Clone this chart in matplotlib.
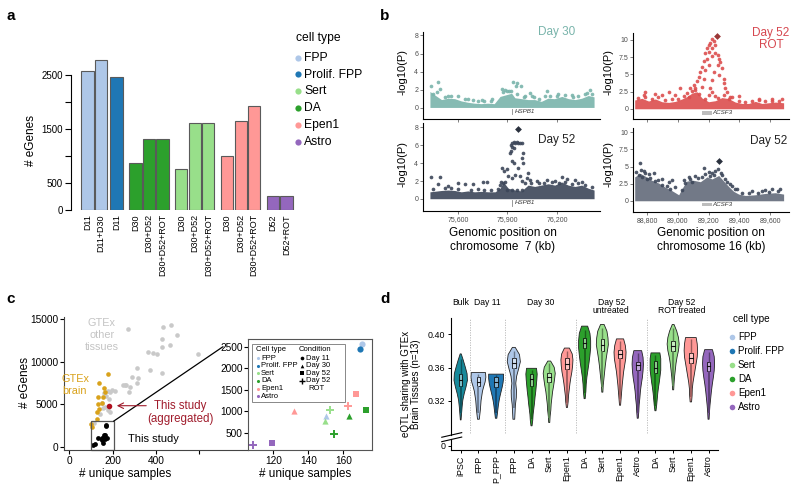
import numpy as np
import matplotlib.pyplot as plt
from matplotlib.patches import Rectangle, ConnectionPatch
from matplotlib.colors import to_rgb

plt.rcParams['font.family'] = ['Liberation Sans', 'DejaVu Sans']
plt.rcParams['axes.linewidth'] = 0.8

W, H = 800, 494

CELL_COLORS = {'FPP': '#aec7e8', 'Prolif. FPP': '#1f77b4', 'Sert': '#98df8a',
               'DA': '#2ca02c', 'Epen1': '#ff9896', 'Astro': '#9467bd', 'iPSC': '#17899b'}
LEGEND_ORDER = ['FPP', 'Prolif. FPP', 'Sert', 'DA', 'Epen1', 'Astro']

# ---------------- panel a: eGenes per cell type / condition
a_types = ['FPP', 'FPP', 'Prolif. FPP', 'DA', 'DA', 'DA', 'Sert', 'Sert', 'Sert',
           'Epen1', 'Epen1', 'Epen1', 'Astro', 'Astro']
a_labels = ['D11', 'D11+D30', 'D11', 'D30', 'D30+D52', 'D30+D52+ROT', 'D30', 'D30+D52',
            'D30+D52+ROT', 'D30', 'D30+D52', 'D30+D52+ROT', 'D52', 'D52+ROT']
a_egenes = [2570, 2780, 2460, 880, 1320, 1320, 770, 1610, 1610, 1010, 1650, 1925, 257, 257]

# ---------------- panel b: locus plots (dense band upper edge + scattered points)
hspb1_d30_band_x = [75430, 75460, 75500, 75540, 75580, 75620, 75660, 75700, 75740, 75780, 75820,
                    75855, 75885, 75925, 75945, 75985, 76025, 76065, 76105, 76145, 76185, 76230,
                    76270, 76310, 76350, 76390, 76425]
hspb1_d30_band_y = [1.8, 1.4, 0.9, 1.05, 1.0, 0.75, 0.6, 0.5, 0.45, 0.5, 0.45, 1.25, 1.4, 1.6,
                    1.1, 1.0, 0.9, 0.9, 0.7, 1.05, 1.0, 1.25, 1.0, 0.9, 1.05, 1.35, 1.2]
hspb1_d30_pts_x = [75436, 75480, 75491, 75541, 75602, 75663, 75743, 75804, 75864, 75888, 75911,
                   75935, 75955, 75949, 75981, 76006, 76036, 76046, 76137, 76127, 76208, 76289,
                   76400, 76369,
                   75450, 75470, 75520, 75560, 75640, 75690, 75720, 75760, 75800, 75870, 75900,
                   75920, 75960, 76000, 76060, 76090, 76160, 76200, 76250, 76300, 76330, 76380,
                   76415]
hspb1_d30_pts_y = [2.35, 2.8, 2.1, 1.3, 1.25, 1.0, 0.9, 0.95, 2.1, 2.0, 1.8, 2.8, 2.75, 2.4,
                   2.35, 1.25, 1.6, 1.3, 1.85, 1.3, 1.5, 1.4, 1.95, 1.5,
                   1.5, 1.7, 1.2, 1.3, 0.95, 0.8, 0.75, 0.7, 0.75, 1.7, 1.8, 1.9, 1.5, 1.2,
                   1.15, 1.0, 1.3, 1.25, 1.45, 1.2, 1.3, 1.6, 1.5]

hspb1_d52_band_x = [75430, 75500, 75540, 75580, 75620, 75660, 75700, 75740, 75785, 75825, 75855,
                    75875, 75905, 75945, 75985, 76025, 76065, 76105, 76147, 76187, 76228, 76268,
                    76310, 76350, 76390, 76425]
hspb1_d52_band_y = [0.8, 0.95, 1.0, 0.95, 0.8, 0.9, 0.8, 0.85, 0.8, 0.8, 1.2, 1.9, 1.2, 1.0,
                    0.9, 1.55, 1.4, 1.55, 1.7, 1.55, 1.9, 1.55, 1.4, 1.55, 1.2, 1.0]
hspb1_d52_pts_x = [75921, 75929, 75937, 75945, 75955, 75966, 75976, 75986, 75929, 75941, 75921,
                   75915, 75996, 75990, 75925, 75939, 75996, 75966, 75868, 75895, 75881, 75905,
                   75945, 75976, 75925, 76026, 76016, 76036, 75986, 76006, 75860, 75874, 75854,
                   75884, 75436, 75491, 75480, 75541, 75602, 75642, 75693, 75753, 75774, 76228,
                   76258, 76309, 76349, 76187, 76137, 76077,
                   75450, 75520, 75560, 75600, 75680, 75720, 75760, 75800, 75840, 76040, 76090,
                   76120, 76170, 76210, 76250, 76290, 76330, 76370, 76410, 75900, 75930, 75960,
                   75990]
hspb1_d52_pts_y = [6.0, 6.2, 6.35, 6.25, 6.4, 6.2, 6.3, 6.25, 5.85, 5.7, 5.4, 5.15, 5.1, 4.6,
                   4.2, 4.0, 4.0, 3.5, 3.5, 3.35, 3.1, 2.6, 2.7, 2.6, 2.3, 2.9, 2.3, 2.1, 2.0,
                   1.8, 1.9, 1.75, 1.6, 1.9, 2.4, 2.4, 1.7, 1.5, 1.75, 1.7, 1.65, 1.85, 1.9,
                   2.5, 2.2, 2.1, 1.9, 2.0, 2.1, 2.05,
                   1.1, 1.2, 1.25, 1.1, 1.05, 1.1, 1.05, 1.0, 1.1, 1.8, 1.75, 1.8, 1.9, 1.8,
                   1.85, 1.7, 1.75, 1.6, 1.3, 1.0, 1.0, 1.0, 1.05]
hspb1_d52_lead = (75966, 7.8)

acsf3_rot_band_x = [88720, 88767, 88810, 88854, 88897, 88941, 88984, 89027, 89060, 89092, 89125,
                    89157, 89200, 89244, 89287, 89331, 89374, 89418, 89461, 89504, 89547, 89591,
                    89634, 89688]
acsf3_rot_band_y = [1.3, 1.55, 1.15, 1.45, 1.05, 0.95, 1.1, 1.45, 1.8, 2.3, 2.5, 1.6, 1.05, 1.2,
                    1.65, 1.5, 1.0, 0.8, 0.8, 1.1, 0.8, 0.9, 1.0, 0.9]
acsf3_rot_pts_x = [89222, 89233, 89211, 89200, 89244, 89190, 89222, 89205, 89244, 89179, 89261,
                   89190, 89222, 89168, 89270, 89157, 89200, 89261, 89277, 89146, 89179, 89233,
                   89287, 89136, 89168, 89266, 89298, 89125, 89222, 89298, 89103, 89114, 89157,
                   89082, 89211, 89222, 89309, 89320, 89092, 89060, 89071, 89200, 89244, 89342,
                   89331, 88789, 88778, 89017, 88941, 88897, 88854, 88984, 89396, 89526, 89612,
                   89677,
                   88740, 88790, 88830, 88870, 88920, 88960, 89000, 89040, 89110, 89140, 89180,
                   89260, 89300, 89350, 89400, 89440, 89480, 89530, 89570, 89610, 89660]
acsf3_rot_pts_y = [10.1, 9.85, 9.5, 9.2, 9.3, 8.8, 8.8, 8.3, 8.1, 8.1, 7.8, 7.3, 7.6, 6.9, 7.3,
                   6.1, 6.4, 6.4, 6.8, 5.4, 5.7, 5.4, 5.9, 4.7, 4.4, 4.9, 4.4, 4.0, 4.2, 3.7,
                   3.5, 3.0, 3.2, 3.0, 3.0, 2.5, 3.0, 2.5, 2.6, 2.3, 1.8, 2.0, 1.9, 1.8, 1.4,
                   2.5, 2.0, 3.1, 2.5, 2.0, 2.1, 2.0, 1.9, 1.4, 1.5, 1.4,
                   1.6, 1.8, 1.5, 1.7, 1.3, 1.4, 1.5, 1.9, 2.8, 2.2, 1.5, 1.6, 2.0, 1.7, 1.1,
                   1.0, 1.2, 1.3, 1.1, 1.2, 1.2]
acsf3_rot_lead = (89255, 10.5)

acsf3_d52_band_x = [88720, 88757, 88789, 88832, 88876, 88919, 88962, 89006, 89038, 89060, 89103,
                    89147, 89190, 89222, 89266, 89298, 89331, 89363, 89396, 89439, 89504, 89569,
                    89634, 89688]
acsf3_d52_band_y = [3.5, 4.0, 3.6, 3.0, 2.6, 2.0, 1.5, 0.9, 2.2, 2.9, 3.0, 2.8, 3.5, 3.2, 3.7,
                    2.9, 2.1, 1.4, 1.0, 0.8, 0.9, 1.1, 1.2, 1.0]
acsf3_d52_pts_x = [88757, 88763, 88778, 88789, 88843, 88811, 88897, 88941, 88962, 88984, 89027,
                   89038, 89071, 89114, 89157, 89168, 89200, 89222, 89244, 89261, 89287, 89320,
                   89353, 89385, 89483, 89569, 89612, 89667,
                   88730, 88745, 88770, 88800, 88820, 88850, 88870, 88900, 88930, 88950, 89050,
                   89080, 89090, 89130, 89180, 89210, 89235, 89280, 89310, 89340, 89370, 89420,
                   89460, 89520, 89550, 89590, 89650]
acsf3_d52_pts_y = [5.5, 4.5, 4.3, 4.0, 4.0, 3.9, 3.2, 2.8, 3.0, 2.0, 1.6, 3.0, 3.5, 3.7, 3.5,
                   4.8, 4.2, 4.0, 4.3, 4.6, 3.8, 2.8, 2.2, 1.8, 1.5, 1.6, 1.8, 1.7,
                   4.2, 3.8, 3.5, 3.2, 3.4, 2.9, 3.0, 2.3, 2.2, 1.8, 2.6, 3.2, 2.7, 3.3, 3.9,
                   3.6, 3.8, 4.0, 3.2, 2.5, 1.7, 1.2, 1.1, 1.2, 1.4, 1.35, 1.5]
acsf3_d52_lead = (89270, 5.75)

# ---------------- panel c: GTEx comparison
gtex_other_x = [273, 431, 469, 495, 429, 464, 426, 362, 388, 403, 592, 311, 372, 426, 288, 316,
                247, 256, 264, 311, 280, 275, 199, 178, 163, 190, 185, 166, 181, 157, 188, 142,
                116, 150, 170, 210]
gtex_other_y = [13850, 14050, 14320, 13150, 12640, 11970, 11770, 11110, 11060, 10910, 10880,
                9230, 9030, 8710, 8170, 8050, 7260, 7260, 7300, 7530, 6990, 6480, 6670, 6590,
                6290, 6400, 5580, 4710, 4320, 4520, 4050, 3810, 2750, 5200, 6000, 6500]
gtex_brain_x = [181, 139, 162, 166, 135, 158, 150, 132, 127, 139, 127, 101, 104]
gtex_brain_y = [8557, 7533, 6873, 6474, 5814, 5814, 5108, 4990, 4120, 4402, 3225, 2670, 2283]
agg_samples, agg_egenes = 185, 4826

c_types = ['FPP', 'Prolif. FPP', 'FPP', 'Sert', 'Sert', 'Sert', 'DA', 'DA', 'DA',
           'Epen1', 'Epen1', 'Epen1', 'Astro', 'Astro']
c_conds = ['Day 11', 'Day 11', 'Day 30', 'Day 30', 'Day 52', 'Day 52 ROT', 'Day 30', 'Day 52',
           'Day 52 ROT', 'Day 30', 'Day 52', 'Day 52 ROT', 'Day 52', 'Day 52 ROT']
c_samples = [170.9, 169.5, 150.1, 149.5, 159.1, 152.4, 163.3, 173.0, 154.9, 132.0, 167.1, 162.9,
             119.1, 108.6]
c_egenes = [2556, 2447, 888, 779, 1430, 1035, 888, 1035, 463, 1005, 1393, 1121, 267, 214]

# ---------------- panel d: eQTL sharing violins
d_labels = ['iPSC', 'FPP', 'P_FPP', 'FPP', 'DA', 'Sert', 'Epen1', 'DA', 'Sert', 'Epen1', 'Astro',
            'DA', 'Sert', 'Epen1', 'Astro']
d_types = ['iPSC', 'FPP', 'Prolif. FPP', 'FPP', 'DA', 'Sert', 'Epen1', 'DA', 'Sert', 'Epen1',
           'Astro', 'DA', 'Sert', 'Epen1', 'Astro']
d_top = [0.3765, 0.3541, 0.3522, 0.3843, 0.3592, 0.3679, 0.3835, 0.4098, 0.4118, 0.3945, 0.3804,
         0.3777, 0.4118, 0.3961, 0.3816]
d_bottom = [0.2973, 0.2981, 0.2993, 0.2981, 0.2902, 0.2942, 0.3122, 0.3228, 0.3306, 0.3149,
            0.2993, 0.3083, 0.3334, 0.3189, 0.2981]
d_median = [0.3455, 0.3424, 0.3424, 0.3659, 0.3463, 0.3483, 0.3639, 0.3894, 0.3867, 0.3765,
            0.3632, 0.3600, 0.3855, 0.3718, 0.3620]
d_q1 = [0.3385, 0.3385, 0.3373, 0.3600, 0.3385, 0.3424, 0.3581, 0.3835, 0.3796, 0.3710, 0.3569,
        0.3541, 0.3796, 0.3659, 0.3561]
d_q3 = [0.3522, 0.3483, 0.3483, 0.3718, 0.3522, 0.3541, 0.3710, 0.3953, 0.3945, 0.3816, 0.3671,
        0.3679, 0.3914, 0.3777, 0.3671]
d_wlo = [0.305, 0.305, 0.306, 0.312, 0.298, 0.300, 0.318, 0.330, 0.337, 0.322, 0.305, 0.314,
         0.338, 0.325, 0.305]
d_whi = [0.370, 0.352, 0.351, 0.380, 0.357, 0.365, 0.380, 0.405, 0.408, 0.392, 0.378, 0.375,
         0.408, 0.394, 0.379]
# half widths at 11 evenly spaced levels from bottom to top of each violin
d_widths = [
    [0.02, 0.05, 0.08, 0.12, 0.20, 0.30, 0.38, 0.36, 0.26, 0.15, 0.03],
    [0.05, 0.08, 0.11, 0.13, 0.15, 0.19, 0.23, 0.30, 0.38, 0.42, 0.40],
    [0.04, 0.07, 0.10, 0.13, 0.17, 0.22, 0.28, 0.34, 0.39, 0.42, 0.42],
    [0.05, 0.07, 0.09, 0.14, 0.15, 0.11, 0.16, 0.27, 0.37, 0.32, 0.08],
    [0.03, 0.07, 0.09, 0.13, 0.17, 0.20, 0.24, 0.27, 0.30, 0.32, 0.28],
    [0.03, 0.05, 0.09, 0.11, 0.15, 0.19, 0.25, 0.30, 0.34, 0.28, 0.08],
    [0.03, 0.07, 0.09, 0.13, 0.17, 0.22, 0.28, 0.32, 0.34, 0.30, 0.14],
    [0.03, 0.07, 0.09, 0.13, 0.19, 0.25, 0.30, 0.34, 0.34, 0.30, 0.17],
    [0.03, 0.05, 0.09, 0.13, 0.17, 0.22, 0.28, 0.34, 0.32, 0.26, 0.10],
    [0.03, 0.06, 0.09, 0.12, 0.16, 0.20, 0.26, 0.32, 0.34, 0.30, 0.20],
    [0.03, 0.06, 0.08, 0.12, 0.15, 0.20, 0.26, 0.30, 0.32, 0.30, 0.22],
    [0.03, 0.07, 0.10, 0.13, 0.17, 0.22, 0.26, 0.30, 0.30, 0.30, 0.25],
    [0.03, 0.05, 0.08, 0.12, 0.16, 0.22, 0.30, 0.34, 0.30, 0.20, 0.05],
    [0.04, 0.07, 0.08, 0.12, 0.18, 0.24, 0.30, 0.36, 0.38, 0.36, 0.30],
    [0.03, 0.05, 0.08, 0.12, 0.16, 0.21, 0.27, 0.32, 0.34, 0.32, 0.22],
]
d_groups = ['Bulk', 'Day 11', 'Day 30', 'Day 52\nuntreated', 'Day 52\nROT treated']
d_group_centers = [0, 1.5, 4.5, 8.5, 12.5]
d_separators = [0.5, 2.5, 6.5, 10.5]


fig = plt.figure(figsize=(8, 4.94), dpi=100)


def px_axes(l, t, r, b):
    return fig.add_axes([l / W, 1 - b / H, (r - l) / W, (b - t) / H])


def mix(c, other, f):
    c = np.array(to_rgb(c))
    o = np.array(to_rgb(other))
    return tuple(c * (1 - f) + o * f)


# overlay in pixel coordinates for free text
ov = fig.add_axes([0, 0, 1, 1])
ov.set_xlim(0, W)
ov.set_ylim(H, 0)
ov.axis('off')
ov.set_zorder(10)

for lab, (x, y) in zip('abcd', [(11, 16), (385, 16), (11, 299), (385, 299)]):
    ov.text(x, y, lab, fontsize=11, fontweight='bold', ha='center', va='center')

# ================= panel a
ax_a = px_axes(71, 55, 295, 210.3)
offs = {'FPP': 0, 'Prolif. FPP': 0.15, 'DA': 0.55, 'Sert': 0.95, 'Epen1': 1.35, 'Astro': 1.75}
a_x = [i + offs[t] for i, t in enumerate(a_types)]
ax_a.bar(a_x, a_egenes, width=0.91, color=[CELL_COLORS[t] for t in a_types],
         edgecolor='#5a5a5a', linewidth=0.8)
ax_a.set_xlim(-1.22, 15.37)
ax_a.set_ylim(0, 2863)
for s in ['top', 'right', 'bottom']:
    ax_a.spines[s].set_visible(False)
ax_a.spines['left'].set_bounds(0, 2500)
ax_a.set_yticks([0, 500, 1000, 1500, 2000, 2500])
ax_a.set_yticklabels(['0', '500', '', '1500', '', '2500'], fontsize=7)
ax_a.tick_params(axis='y', length=4.3, width=0.8, pad=1.5)
ax_a.set_xticks(a_x)
ax_a.set_xticklabels(a_labels, rotation=90, fontsize=6.5)
ax_a.tick_params(axis='x', length=0, pad=2.7)
ov.text(31, 140, '# eGenes', rotation=90, fontsize=8.5, ha='center', va='center')

ov.text(296, 37.7, 'cell type', fontsize=8.7, ha='left', va='center')
for i, t in enumerate(LEGEND_ORDER):
    y = 57.7 + 16.8 * i
    ov.scatter([297.7], [y], s=20, color=CELL_COLORS[t], lw=0)
    ov.text(304, y, t, fontsize=8.7, ha='left', va='center')

# ================= panel b
TEAL, NAVY, RED = '#79b4ab', '#3c4659', '#dc4e4e'


def locus(box, xlim, ylim, yticks, yticklabels, xticks, xticklabels, show_x,
          band_x, band_y, pts_x, pts_y, color, lead=None, band_alpha=0.9):
    ax = px_axes(*box)
    ax.fill_between(band_x, 0.03, band_y, color=color, lw=0, alpha=band_alpha)
    ax.scatter(pts_x, pts_y, s=7, color=color, lw=0, alpha=0.9)
    if lead is not None:
        ax.scatter([lead[0]], [lead[1]], s=12, marker='D', color=mix(color, 'black', 0.3), lw=0)
    ax.set_xlim(*xlim)
    ax.set_ylim(*ylim)
    for s in ['top', 'right']:
        ax.spines[s].set_visible(False)
    ax.set_yticks(yticks)
    ax.set_yticklabels(yticklabels)
    ax.set_xticks(xticks)
    ax.set_xticklabels(xticklabels if show_x else [])
    ax.tick_params(labelsize=5, length=2, width=0.5, pad=1.5, colors='#4d4d4d')
    return ax


HS_XLIM = (75388, 76461)
AC_XLIM = (88709, 89723)
hs_ticks = [75600, 75900, 76200]
hs_labels = ['75,600', '75,900', '76,200']
ac_ticks = [88800, 89000, 89200, 89400, 89600]
ac_labels = ['88,800', '89,000', '89,200', '89,400', '89,600']

ax_tl = locus((423, 32, 600, 119), HS_XLIM, (-1.25, 8.38), [0, 2, 4, 6, 8],
              ['0', '2', '4', '6', '8'], hs_ticks, hs_labels, False,
              hspb1_d30_band_x, hspb1_d30_band_y, hspb1_d30_pts_x, hspb1_d30_pts_y, TEAL)
ax_bl = locus((423, 123, 600, 211), HS_XLIM, (-1.34, 8.48), [0, 2, 4, 6, 8],
              ['0', '2', '4', '6', '8'], hs_ticks, hs_labels, True,
              hspb1_d52_band_x, hspb1_d52_band_y, hspb1_d52_pts_x, hspb1_d52_pts_y, NAVY,
              hspb1_d52_lead)
ax_tr = locus((633, 33, 789, 119), AC_XLIM, (-1.45, 11.0), [0, 2.5, 5, 7.5, 10],
              ['0', '2.5', '5', '7.5', '10'], ac_ticks, ac_labels, False,
              acsf3_rot_band_x, acsf3_rot_band_y, acsf3_rot_pts_x, acsf3_rot_pts_y, RED,
              acsf3_rot_lead)
ax_br = locus((633, 128, 789, 212), AC_XLIM, (-1.6, 10.6), [0, 2.5, 5, 7.5, 10],
              ['0', '2.5', '5', '7.5', '10'], ac_ticks, ac_labels, True,
              acsf3_d52_band_x, acsf3_d52_band_y, acsf3_d52_pts_x, acsf3_d52_pts_y, NAVY,
              acsf3_d52_lead, band_alpha=0.72)

for ax in (ax_tl, ax_bl):
    ax.plot([75925, 75925], [-0.75, -0.15], color='#888888', lw=0.6)
    ax.text(75945, -0.42, 'HSPB1', fontsize=4.5, style='italic', va='center', color='#333333')
for ax in (ax_tr, ax_br):
    ax.add_patch(Rectangle((89160, -0.8), 61, 0.45, color='#bdbdbd', lw=0))
    ax.text(89225, -0.58, 'ACSF3', fontsize=4.5, style='italic', va='center', color='#333333')

for x, y in [(402, 72), (402, 164), (609, 72), (609, 164)]:
    ov.text(x, y, '-log10(P)', rotation=90, fontsize=8, ha='center', va='center')
ov.text(575, 32.3, 'Day 30', color=TEAL, fontsize=8.5, ha='right', va='center')
ov.text(575, 140, 'Day 52', color='#222222', fontsize=8.5, ha='right', va='center')
ov.text(771, 39, 'Day 52\nROT', color='#d6474f', fontsize=8.5, ha='center', va='center',
        multialignment='center', linespacing=1.05)
ov.text(787, 141, 'Day 52', color='#222222', fontsize=8.5, ha='right', va='center')
ov.text(503, 233, 'Genomic position on', fontsize=8.5, ha='center', va='center')
ov.text(503, 247, 'chromosome  7 (kb)', fontsize=8.5, ha='center', va='center')
ov.text(711, 233, 'Genomic position on', fontsize=8.5, ha='center', va='center')
ov.text(711, 247, 'chromosome 16 (kb)', fontsize=8.5, ha='center', va='center')

# ================= panel c
ax_c = px_axes(64, 316.7, 248, 450)
ax_c.scatter(gtex_other_x, gtex_other_y, s=11, color='#c9c9c9', lw=0)
ax_c.scatter(gtex_brain_x, gtex_brain_y, s=11, color='#d9a21b', lw=0)
ax_c.scatter(c_samples, c_egenes, s=12, color='black', lw=0)
ax_c.scatter([agg_samples], [agg_egenes], s=16, color='#b0101e', lw=0)
ax_c.set_xlim(-23, 823)
ax_c.set_ylim(-388, 15300)
for s in ['top', 'right']:
    ax_c.spines[s].set_visible(False)
ax_c.spines['left'].set_color('#444444')
ax_c.spines['bottom'].set_color('#444444')
ax_c.set_xticks([0, 200, 400, 600])
ax_c.set_xticklabels(['0', '200', '400', ''])
ax_c.set_yticks([0, 5000, 10000, 15000])
ax_c.tick_params(labelsize=7.3, length=3, width=0.8, pad=1.2)
ax_c.add_patch(Rectangle((100, -388), 105, 3390, fill=False, ec='#555555', lw=0.9, clip_on=False))

ax_i = px_axes(248.3, 339.3, 372.3, 450)
ax_i.set_facecolor('white')
cond_markers = {'Day 11': 'o', 'Day 30': '^', 'Day 52': 's', 'Day 52 ROT': '+'}
for x, y, t, cnd in zip(c_samples, c_egenes, c_types, c_conds):
    m = cond_markers[cnd]
    if m == '+':
        ax_i.scatter([x], [y], marker='+', s=36, color=CELL_COLORS[t], linewidths=1.4)
    else:
        ax_i.scatter([x], [y], marker=m, s=20, color=CELL_COLORS[t], lw=0)
ax_i.set_xlim(105.7, 176.6)
ax_i.set_ylim(97, 2672)
ax_i.set_xticks([120, 140, 160])
ax_i.set_yticks([500, 1000, 1500, 2000, 2500])
ax_i.tick_params(labelsize=7.3, length=3, width=0.8, pad=1.2)
for s in ax_i.spines.values():
    s.set_color('#555555')

con = ConnectionPatch(xyA=(205, 3000), coordsA=ax_c.transData, xyB=(223, 346.7),
                      coordsB=ov.transData, color='black', lw=0.9)
fig.add_artist(con)

ov.text(25, 382, '# eGenes', rotation=90, fontsize=8.5, ha='center', va='center')
ov.text(125, 474, '# unique samples', fontsize=8.5, ha='center', va='center')
ov.text(305, 474, '# unique samples', fontsize=8.5, ha='center', va='center')
ov.text(102, 334.5, 'GTEx\nother\ntissues', color='#c4c4c4', fontsize=7.8, ha='center',
        va='center', linespacing=1.25)
ov.text(75, 385, 'GTEx\nbrain', color='#d9a21b', fontsize=7.8, ha='center', va='center',
        linespacing=1.25)
ov.text(180, 412.5, 'This study\n(aggregated)', color='#a01c2c', fontsize=8.3, ha='center',
        va='center', linespacing=1.15)
ov.text(153, 438.5, 'This study', color='black', fontsize=8, ha='center', va='center')
ov.annotate('', xy=(114, 405.7), xytext=(149, 405.7),
            arrowprops=dict(arrowstyle='->', color='#a01c2c', lw=0.8))

# inset legend
ov.add_patch(Rectangle((251.7, 344.3), 93.3, 57.4, fc='white', ec='#888888', lw=0.7))
ov.text(256, 349.5, 'Cell type', fontsize=5.5, ha='left', va='center')
ov.text(299, 349.5, 'Condition', fontsize=5.5, ha='left', va='center')
for i, t in enumerate(LEGEND_ORDER):
    y = 358.3 + 7.55 * i
    ov.scatter([257.7], [y], s=5, color=CELL_COLORS[t], lw=0)
    ov.text(261, y, t, fontsize=5.5, ha='left', va='center')
for i, cnd in enumerate(['Day 11', 'Day 30', 'Day 52', 'Day 52 ROT']):
    y = 358.3 + 7.55 * i
    m = cond_markers[cnd]
    if m == '+':
        ov.scatter([302.3], [y], marker='+', s=14, color='black', linewidths=1.0)
    else:
        ov.scatter([302.3], [y], marker=m, s=7, color='black', lw=0)
    ov.text(305.7, y, 'Day 52' if cnd == 'Day 52 ROT' else cnd, fontsize=5.5,
            ha='left', va='center')
ov.text(308, 358.3 + 7.55 * 4, 'ROT', fontsize=5.5, ha='left', va='center')

# ================= panel d
ax_d = px_axes(450.7, 318.3, 718.3, 450)
levels = np.linspace(0, 1, 11)
for i in range(len(d_labels)):
    col = CELL_COLORS[d_types[i]]
    yv = d_bottom[i] + levels * (d_top[i] - d_bottom[i])
    hw = np.array(d_widths[i])
    xs = np.concatenate([i - hw, (i + hw)[::-1]])
    ys = np.concatenate([yv, yv[::-1]])
    ax_d.fill(xs, ys, facecolor=col, edgecolor='#222222', lw=0.6, joinstyle='round')
    dark = mix(col, 'black', 0.4)
    ax_d.plot([i, i], [d_wlo[i], d_q1[i]], color=dark, lw=1.3, solid_capstyle='butt')
    ax_d.plot([i, i], [d_q3[i], d_whi[i]], color=dark, lw=1.0, solid_capstyle='butt')
    ax_d.add_patch(Rectangle((i - 0.1, d_q1[i]), 0.2, d_q3[i] - d_q1[i],
                             fc=mix(col, 'white', 0.45), ec='#111111', lw=0.6))
    ax_d.plot([i - 0.1, i + 0.1], [d_median[i]] * 2, color='#111111', lw=0.8)

ax_d.vlines(d_separators, 0.282, 0.4192, colors='#b5b5b5', linestyles=(0, (1.5, 1.5)), lw=0.6)
ax_d.set_xlim(-0.565, 14.55)
ax_d.set_ylim(0.2612, 0.4192)
for s in ['top', 'right']:
    ax_d.spines[s].set_visible(False)
ax_d.spines['left'].set_bounds(0.279, 0.4192)
ax_d.plot([-0.565, -0.565], [0.2612, 0.274], color='black', lw=0.8, clip_on=False)
ax_d.plot([-1.07, 0.056], [0.2765, 0.2820], color='black', lw=0.8, clip_on=False)
ax_d.plot([-1.07, 0.056], [0.2712, 0.2767], color='black', lw=0.8, clip_on=False)
ax_d.set_yticks([0.266, 0.32, 0.36, 0.40])
ax_d.set_yticklabels(['0', '0.32', '0.36', '0.40'])
ax_d.set_xticks(range(len(d_labels)))
ax_d.set_xticklabels(d_labels, rotation=90)
ax_d.tick_params(labelsize=6.4, length=2.5, width=0.7, pad=1.5)
for gx, g in zip(d_group_centers, d_groups):
    ax_d.text(gx, 0.4441, g, fontsize=6.2, ha='center', va='top', linespacing=0.95,
              clip_on=False)

ov.text(411, 384, 'eQTL sharing with GTEx\nBrain Tissues (n=13)', rotation=90, fontsize=7,
        ha='center', va='center', linespacing=1.1)
ov.text(733, 319, 'cell type', fontsize=7.2, ha='left', va='center')
for i, t in enumerate(LEGEND_ORDER):
    y = 337.3 + 14 * i
    ov.scatter([731.7], [y], s=16, color=CELL_COLORS[t], lw=0)
    ov.text(738, y, t, fontsize=7, ha='left', va='center')

fig.savefig('out.png', dpi=100)
